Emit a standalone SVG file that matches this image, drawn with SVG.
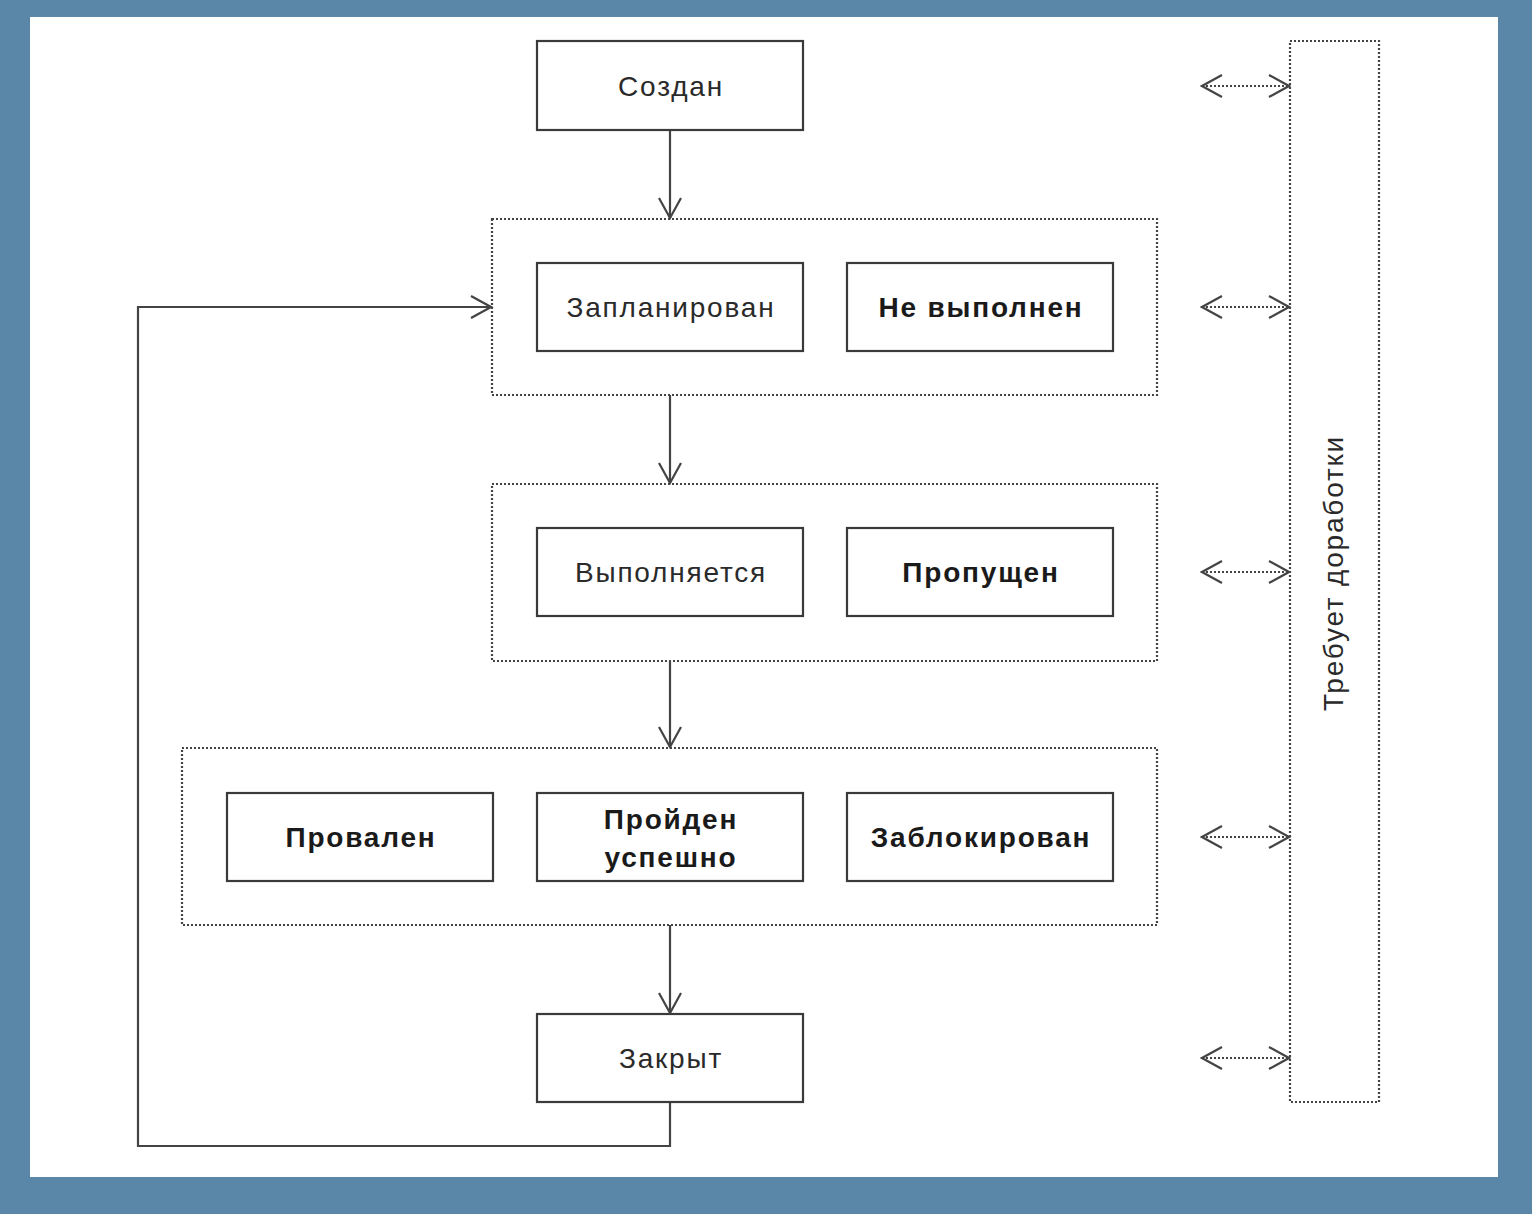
<svg xmlns="http://www.w3.org/2000/svg" width="1532" height="1214" viewBox="0 0 1532 1214">
<style>
.box{fill:#fff;stroke:#3a3a3a;stroke-width:2.2}
.grp{fill:none;stroke:#444;stroke-width:2.2;stroke-dasharray:2 2}
.t{font-family:"Liberation Sans",Arial,sans-serif;font-size:28px;letter-spacing:1.8px;fill:#2a2a2a;text-anchor:middle;dominant-baseline:central}
.b{font-weight:bold;fill:#1a1a1a}
.ln{fill:none;stroke:#444;stroke-width:2.2}
.dl{fill:none;stroke:#444;stroke-width:2.2;stroke-dasharray:2 2}
</style>
<defs>
<marker id="ah" viewBox="-22 -13 24 26" markerWidth="24" markerHeight="26" refX="0" refY="0" orient="auto" markerUnits="userSpaceOnUse">
<path d="M-20,-11 L0,0 L-20,11" fill="none" stroke="#444" stroke-width="2.2"/>
</marker>
<marker id="as" viewBox="-2 -13 24 26" markerWidth="24" markerHeight="26" refX="0" refY="0" orient="auto" markerUnits="userSpaceOnUse">
<path d="M20,-11 L0,0 L20,11" fill="none" stroke="#444" stroke-width="2.2"/>
</marker>
</defs>
<rect x="0" y="0" width="1532" height="1214" fill="#5a87a8"/>
<rect x="30" y="17" width="1468" height="1160" fill="#fff"/>

<g id="groups">
<rect id="group1" class="grp" x="492" y="219" width="665" height="176"/>
<rect id="group2" class="grp" x="492" y="484" width="665" height="177"/>
<rect id="group3" class="grp" x="182" y="748" width="975" height="177"/>
</g>

<g id="connectors">
<line class="ln" x1="670" y1="130" x2="670" y2="218" marker-end="url(#ah)"/>
<line class="ln" x1="670" y1="395" x2="670" y2="483" marker-end="url(#ah)"/>
<line class="ln" x1="670" y1="661" x2="670" y2="747" marker-end="url(#ah)"/>
<line class="ln" x1="670" y1="925" x2="670" y2="1013" marker-end="url(#ah)"/>
<polyline class="ln" points="670,1102 670,1146 138,1146 138,307 491,307" marker-end="url(#ah)"/>
<line class="dl" x1="1202" y1="86" x2="1289" y2="86" marker-start="url(#as)" marker-end="url(#ah)"/>
<line class="dl" x1="1202" y1="307" x2="1289" y2="307" marker-start="url(#as)" marker-end="url(#ah)"/>
<line class="dl" x1="1202" y1="572" x2="1289" y2="572" marker-start="url(#as)" marker-end="url(#ah)"/>
<line class="dl" x1="1202" y1="837" x2="1289" y2="837" marker-start="url(#as)" marker-end="url(#ah)"/>
<line class="dl" x1="1202" y1="1058" x2="1289" y2="1058" marker-start="url(#as)" marker-end="url(#ah)"/>
</g>

<g id="n-created"><rect class="box" x="537" y="41" width="266" height="89"/><text class="t" x="671" y="86">Создан</text></g>
<g id="n-planned"><rect class="box" x="537" y="263" width="266" height="88"/><text class="t" x="671" y="307">Запланирован</text></g>
<g id="n-notdone"><rect class="box" x="847" y="263" width="266" height="88"/><text class="t b" x="981" y="307">Не выполнен</text></g>
<g id="n-running"><rect class="box" x="537" y="528" width="266" height="88"/><text class="t" x="671" y="572">Выполняется</text></g>
<g id="n-skipped"><rect class="box" x="847" y="528" width="266" height="88"/><text class="t b" x="981" y="572">Пропущен</text></g>
<g id="n-failed"><rect class="box" x="227" y="793" width="266" height="88"/><text class="t b" x="361" y="837">Провален</text></g>
<g id="n-passed"><rect class="box" x="537" y="793" width="266" height="88"/><text class="t b" x="671" y="819">Пройден</text><text class="t b" x="671" y="857">успешно</text></g>
<g id="n-blocked"><rect class="box" x="847" y="793" width="266" height="88"/><text class="t b" x="981" y="837">Заблокирован</text></g>
<g id="n-closed"><rect class="box" x="537" y="1014" width="266" height="88"/><text class="t" x="671" y="1058">Закрыт</text></g>
<g id="n-rework"><rect class="grp" x="1290" y="41" width="89" height="1061"/><text class="t" transform="translate(1333,573) rotate(-90)" x="0" y="0">Требует доработки</text></g>
</svg>
